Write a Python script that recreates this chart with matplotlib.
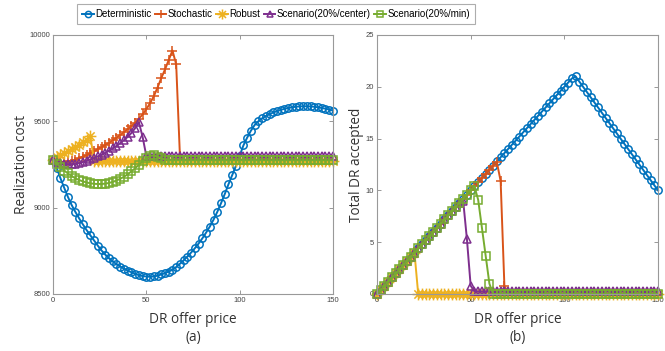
import numpy as np
import matplotlib.pyplot as plt
from matplotlib.path import Path
from matplotlib.ticker import FixedLocator

# DR offer price grid (0:2:150)
price = np.arange(0, 152, 2)

# MATLAB-style asterisk: + and x drawn together
d = 0.7
asterisk = Path([(-1, 0), (1, 0), (0, -1), (0, 1), (-d, -d), (d, d), (-d, d), (d, -d)],
                [Path.MOVETO, Path.LINETO] * 4)

names = ['Deterministic', 'Stochastic', 'Robust', 'Scenario(20%/center)', 'Scenario(20%/min)']
colors = ['#0072BD', '#D95319', '#EDB120', '#7E2F8E', '#77AC30']
markers = ['o', '+', asterisk, '^', 's']
msizes = [5.3, 6.5, 8.5, 5.3, 5.3]

# (a) realization cost
cost_det = [9275, 9230, 9170, 9115, 9062, 9015, 8975, 8938, 8903, 8870,
            8840, 8810, 8780, 8752, 8728, 8707, 8689, 8673, 8659, 8647,
            8636, 8626, 8617, 8609, 8604, 8601, 8600, 8602, 8606, 8613,
            8621, 8630, 8640, 8656, 8675, 8695, 8717, 8740, 8765, 8792,
            8822, 8855, 8890, 8930, 8975, 9025, 9078, 9135, 9188, 9242,
            9300, 9360, 9405, 9445, 9478, 9500, 9517, 9530, 9541, 9551,
            9559, 9566, 9572, 9577, 9581, 9584, 9586, 9587, 9587, 9586,
            9584, 9581, 9577, 9573, 9568, 9562]
cost_sto = [9275, 9268, 9265, 9265, 9268, 9272, 9278, 9286, 9295, 9305,
            9316, 9327, 9339, 9351, 9363, 9375, 9390, 9405, 9420, 9437,
            9455, 9472, 9492, 9515, 9540, 9570, 9605, 9645, 9695, 9750,
            9800, 9855, 9910, 9830, 9300, 9278, 9278, 9278, 9278, 9278,
            9278, 9278, 9278, 9278, 9278, 9278, 9278, 9278, 9278, 9278,
            9278, 9278, 9278, 9278, 9278, 9278, 9278, 9278, 9278, 9278,
            9278, 9278, 9278, 9278, 9278, 9278, 9278, 9278, 9278, 9278,
            9278, 9278, 9278, 9278, 9278, 9278]
cost_rob = [9275, 9295, 9305, 9315, 9327, 9340, 9352, 9365, 9378, 9393,
            9415, 9270, 9270, 9270, 9270, 9270, 9270, 9270, 9270, 9270,
            9270, 9270, 9270, 9270, 9270, 9270, 9270, 9270, 9270, 9270,
            9270, 9270, 9270, 9270, 9270, 9270, 9270, 9270, 9270, 9270,
            9270, 9270, 9270, 9270, 9270, 9270, 9270, 9270, 9270, 9270,
            9270, 9270, 9270, 9270, 9270, 9270, 9270, 9270, 9270, 9270,
            9270, 9270, 9270, 9270, 9270, 9270, 9270, 9270, 9270, 9270,
            9270, 9270, 9270, 9270, 9270, 9270]
cost_cen = [9275, 9265, 9258, 9254, 9252, 9252, 9254, 9258, 9264, 9271,
            9279, 9288, 9297, 9307, 9318, 9330, 9343, 9357, 9373, 9390,
            9410, 9432, 9460, 9495, 9410, 9300, 9300, 9300, 9300, 9300,
            9300, 9300, 9300, 9300, 9300, 9300, 9300, 9300, 9300, 9300,
            9300, 9300, 9300, 9300, 9300, 9300, 9300, 9300, 9300, 9300,
            9300, 9300, 9300, 9300, 9300, 9300, 9300, 9300, 9300, 9300,
            9300, 9300, 9300, 9300, 9300, 9300, 9300, 9300, 9300, 9300,
            9300, 9300, 9300, 9300, 9300, 9300]
cost_min = [9275, 9255, 9235, 9215, 9198, 9183, 9170, 9160, 9152, 9146,
            9141, 9138, 9137, 9137, 9139, 9143, 9149, 9157, 9167, 9179,
            9193, 9210, 9228, 9248, 9268, 9288, 9300, 9302, 9295, 9285,
            9278, 9275, 9275, 9275, 9275, 9275, 9275, 9275, 9275, 9275,
            9275, 9275, 9275, 9275, 9275, 9275, 9275, 9275, 9275, 9275,
            9275, 9275, 9275, 9275, 9275, 9275, 9275, 9275, 9275, 9275,
            9275, 9275, 9275, 9275, 9275, 9275, 9275, 9275, 9275, 9275,
            9275, 9275, 9275, 9275, 9275, 9275]

# (b) total DR accepted
dr_det = [0.0, 0.4, 0.8, 1.2, 1.6, 2.0, 2.4, 2.8, 3.2, 3.6,
          4.0, 4.4, 4.8, 5.2, 5.6, 6.0, 6.4, 6.8, 7.2, 7.6,
          8.0, 8.4, 8.8, 9.2, 9.6, 10.0, 10.4, 10.8, 11.2, 11.6,
          12.0, 12.4, 12.8, 13.2, 13.6, 14.0, 14.4, 14.8, 15.2, 15.6,
          16.0, 16.4, 16.8, 17.2, 17.6, 18.0, 18.4, 18.8, 19.2, 19.6,
          20.0, 20.4, 20.8, 21.0, 20.5, 20.0, 19.5, 19.0, 18.5, 18.0,
          17.5, 17.0, 16.5, 16.0, 15.5, 15.0, 14.5, 14.0, 13.5, 13.0,
          12.5, 12.0, 11.5, 11.0, 10.5, 10.0]
dr_sto = [0.0, 0.4, 0.8, 1.2, 1.6, 2.0, 2.4, 2.8, 3.2, 3.6,
          4.0, 4.4, 4.8, 5.2, 5.6, 6.0, 6.4, 6.8, 7.2, 7.6,
          8.0, 8.4, 8.8, 9.2, 9.6, 10.0, 10.4, 10.8, 11.2, 11.6,
          12.0, 12.4, 12.7, 10.9, 0.8, 0, 0, 0, 0, 0,
          0, 0, 0, 0, 0, 0, 0, 0, 0, 0,
          0, 0, 0, 0, 0, 0, 0, 0, 0, 0,
          0, 0, 0, 0, 0, 0, 0, 0, 0, 0,
          0, 0, 0, 0, 0, 0]
dr_rob = [0.0, 0.4, 0.8, 1.2, 1.6, 2.0, 2.4, 2.8, 3.2, 3.6,
          4.0, 0, 0, 0, 0, 0, 0, 0, 0, 0,
          0, 0, 0, 0, 0, 0, 0, 0, 0, 0,
          0, 0, 0, 0, 0, 0, 0, 0, 0, 0,
          0, 0, 0, 0, 0, 0, 0, 0, 0, 0,
          0, 0, 0, 0, 0, 0, 0, 0, 0, 0,
          0, 0, 0, 0, 0, 0, 0, 0, 0, 0,
          0, 0, 0, 0, 0, 0]
dr_cen = [0.0, 0.4, 0.8, 1.2, 1.6, 2.0, 2.4, 2.8, 3.2, 3.6,
          4.0, 4.4, 4.8, 5.2, 5.6, 6.0, 6.4, 6.8, 7.2, 7.6,
          8.0, 8.4, 8.8, 9.0, 5.3, 0.8, 0.25, 0.25, 0.25, 0.25,
          0.25, 0.25, 0.25, 0.25, 0.25, 0.25, 0.25, 0.25, 0.25, 0.25,
          0.25, 0.25, 0.25, 0.25, 0.25, 0.25, 0.25, 0.25, 0.25, 0.25,
          0.25, 0.25, 0.25, 0.25, 0.25, 0.25, 0.25, 0.25, 0.25, 0.25,
          0.25, 0.25, 0.25, 0.25, 0.25, 0.25, 0.25, 0.25, 0.25, 0.25,
          0.25, 0.25, 0.25, 0.25, 0.25, 0.25]
dr_min = [0.0, 0.4, 0.8, 1.2, 1.6, 2.0, 2.4, 2.8, 3.2, 3.6,
          4.0, 4.4, 4.8, 5.2, 5.6, 6.0, 6.4, 6.8, 7.2, 7.6,
          8.0, 8.4, 8.8, 9.2, 9.6, 10.0, 10.4, 9.1, 6.4, 3.7,
          1.0, 0, 0, 0, 0, 0, 0, 0, 0, 0,
          0, 0, 0, 0, 0, 0, 0, 0, 0, 0,
          0, 0, 0, 0, 0, 0, 0, 0, 0, 0,
          0, 0, 0, 0, 0, 0, 0, 0, 0, 0,
          0, 0, 0, 0, 0, 0]

cost_series = [cost_det, cost_sto, cost_rob, cost_cen, cost_min]
dr_series = [dr_det, dr_sto, dr_rob, dr_cen, dr_min]

fig = plt.figure(figsize=(6.65, 3.51), dpi=100)
ax1 = fig.add_axes([0.0797, 0.1624, 0.421, 0.738])
ax2 = fig.add_axes([0.5669, 0.1624, 0.4226, 0.738])

handles = []
for ax, series in [(ax1, cost_series), (ax2, dr_series)]:
    for name, col, mk, ms, y in zip(names, colors, markers, msizes, series):
        h, = ax.plot(price, y, color=col, marker=mk, markersize=ms,
                     markerfacecolor='none', markeredgewidth=1.1, lw=1.4,
                     label=name, clip_on=False)
        if ax is ax1:
            handles.append(h)

ax1.set_ylim(8500, 10000)
ax1.yaxis.set_major_locator(FixedLocator([8500, 9000, 9500, 10000]))
ax2.set_ylim(0, 25)
ax2.yaxis.set_major_locator(FixedLocator([0, 5, 10, 15, 20, 25]))

lab_font = dict(family='Open Sans', fontsize=9.8, color='#333333')
for ax, ylab, tag, pad in [(ax1, 'Realization cost', '(a)', 0), (ax2, 'Total DR accepted', '(b)', 1)]:
    ax.set_xlim(0, 150)
    ax.xaxis.set_major_locator(FixedLocator([0, 50, 100, 150]))
    ax.tick_params(direction='in', length=3, width=0.6, colors='#888888',
                   labelcolor='#444444', labelsize=5.5, top=True, right=True, pad=2)
    for lab in ax.get_xticklabels() + ax.get_yticklabels():
        lab.set_family('Liberation Sans')
    for s in ax.spines.values():
        s.set_color('#999999')
        s.set_linewidth(0.8)
    ax.set_xlabel('DR offer price', labelpad=6, **lab_font)
    ax.set_ylabel(ylab, labelpad=pad, **lab_font)
    ax.text(0.5, -0.14, tag, transform=ax.transAxes, ha='center', va='top', **lab_font)

leg = fig.legend(handles=handles, loc='center', bbox_to_anchor=(0.415, 0.96), ncol=5,
                 prop={'family': 'Liberation Sans', 'size': 7.0}, frameon=True,
                 fancybox=False, edgecolor='#999999', handlelength=1.2,
                 handletextpad=0.15, columnspacing=0.35, borderpad=0.55,
                 markerscale=0.85)
leg.get_frame().set_linewidth(0.8)

fig.savefig('out.png', dpi=100)
